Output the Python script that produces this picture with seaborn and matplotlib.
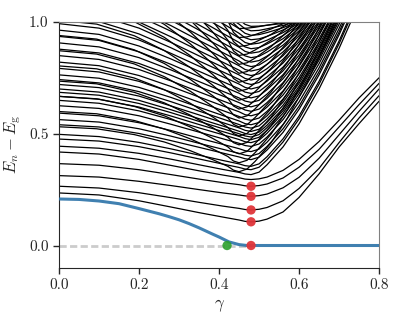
import numpy as np
import pandas as pd
import matplotlib
matplotlib.use("Agg")
import matplotlib.pyplot as plt
import seaborn as sns

gamma_a = [0, 0.1, 0.2, 0.28, 0.35, 0.41, 0.45, 0.465, 0.48, 0.50,
           0.52, 0.56, 0.6, 0.65, 0.7, 0.75, 0.8]
gamma_b = [0, 0.094, 0.188, 0.263, 0.328, 0.384, 0.422, 0.436, 0.45, 0.47,
           0.49, 0.53, 0.57, 0.62, 0.67, 0.72, 0.77]

# excited levels E_n - E_g (rows stop once a level leaves the top of the plot)
# shallow family, minimum at the critical point
levels_a = [
    [0.235, 0.226, 0.200, 0.172, 0.147, 0.127, 0.114, 0.108, 0.106, 0.109, 0.118, 0.150, 0.215, 0.320, 0.440, 0.545, 0.645],
    [0.265, 0.257, 0.236, 0.214, 0.193, 0.176, 0.166, 0.161, 0.159, 0.162, 0.170, 0.200, 0.255, 0.345, 0.460, 0.570, 0.670],
    [0.3125, 0.306, 0.287, 0.268, 0.250, 0.235, 0.226, 0.222, 0.220, 0.223, 0.230, 0.258, 0.305, 0.390, 0.495, 0.600, 0.700],
    [0.366, 0.359, 0.339, 0.317, 0.297, 0.281, 0.272, 0.267, 0.265, 0.268, 0.275, 0.302, 0.350, 0.430, 0.530, 0.630, 0.725],
    [0.418, 0.409, 0.385, 0.358, 0.334, 0.315, 0.303, 0.297, 0.295, 0.298, 0.306, 0.336, 0.385, 0.465, 0.560, 0.660, 0.750],
    [0.444, 0.435, 0.412, 0.386, 0.361, 0.340, 0.327, 0.320, 0.317, 0.328, 0.361, 0.441, 0.544, 0.700, 0.881, 1.083],
    [0.476, 0.467, 0.442, 0.414, 0.387, 0.364, 0.349, 0.342, 0.339, 0.350, 0.383, 0.463, 0.566, 0.721, 0.902, 1.104],
    [0.497, 0.487, 0.461, 0.432, 0.404, 0.380, 0.365, 0.357, 0.354, 0.365, 0.397, 0.477, 0.579, 0.734, 0.914, 1.116],
    [0.540, 0.530, 0.501, 0.469, 0.439, 0.413, 0.396, 0.388, 0.384, 0.395, 0.427, 0.506, 0.609, 0.763, 0.942, 1.143],
    [0.563, 0.552, 0.522, 0.489, 0.457, 0.430, 0.412, 0.404, 0.400, 0.411, 0.443, 0.522, 0.623, 0.777, 0.954, 1.154],
    [0.592, 0.580, 0.549, 0.514, 0.480, 0.452, 0.433, 0.424, 0.420, 0.431, 0.462, 0.541, 0.642, 0.794, 0.970, 1.167],
    [0.625, 0.613, 0.580, 0.542, 0.507, 0.477, 0.457, 0.447, 0.443, 0.454, 0.485, 0.563, 0.663, 0.813, 0.989, 1.185],
    [0.649, 0.636, 0.602, 0.563, 0.526, 0.495, 0.474, 0.464, 0.460, 0.471, 0.502, 0.579, 0.679, 0.829, 1.004],
    [0.667, 0.654, 0.619, 0.579, 0.541, 0.509, 0.488, 0.478, 0.473, 0.484, 0.515, 0.592, 0.691, 0.841, 1.015],
    [0.685, 0.672, 0.635, 0.594, 0.555, 0.522, 0.500, 0.490, 0.485, 0.496, 0.527, 0.603, 0.701, 0.850, 1.022],
    [0.700, 0.686, 0.649, 0.607, 0.567, 0.534, 0.511, 0.501, 0.496, 0.507, 0.538, 0.613, 0.712, 0.861, 1.033],
    [0.720, 0.706, 0.668, 0.624, 0.584, 0.549, 0.526, 0.515, 0.510, 0.520, 0.551, 0.627, 0.725, 0.872, 1.043],
    [0.742, 0.727, 0.688, 0.643, 0.601, 0.565, 0.541, 0.530, 0.525, 0.535, 0.566, 0.641, 0.738, 0.884, 1.053],
    [0.763, 0.748, 0.707, 0.662, 0.618, 0.581, 0.557, 0.545, 0.540, 0.550, 0.580, 0.655, 0.751, 0.896, 1.063],
    [0.792, 0.776, 0.734, 0.686, 0.641, 0.603, 0.577, 0.565, 0.560, 0.570, 0.600, 0.673, 0.768, 0.910, 1.075],
    [0.820, 0.804, 0.760, 0.711, 0.664, 0.624, 0.598, 0.585, 0.580, 0.590, 0.619, 0.691, 0.785, 0.924, 1.087],
    [0.849, 0.832, 0.787, 0.736, 0.687, 0.646, 0.619, 0.606, 0.600, 0.610, 0.639, 0.710, 0.802, 0.941, 1.102],
    [0.878, 0.861, 0.814, 0.761, 0.710, 0.668, 0.639, 0.626, 0.620, 0.630, 0.658, 0.728, 0.819, 0.955, 1.113],
    [0.906, 0.888, 0.840, 0.785, 0.733, 0.689, 0.660, 0.646, 0.640, 0.649, 0.677, 0.746, 0.834, 0.968, 1.122],
    [0.935, 0.917, 0.866, 0.810, 0.756, 0.711, 0.681, 0.666, 0.660, 0.669, 0.697, 0.764, 0.851, 0.983, 1.135],
    [0.963, 0.944, 0.892, 0.834, 0.779, 0.732, 0.701, 0.686, 0.680, 0.689, 0.716, 0.781, 0.867, 0.994, 1.143],
    [0.992, 0.972, 0.919, 0.859, 0.802, 0.754, 0.722, 0.707, 0.700, 0.709, 0.735, 0.798, 0.881, 1.005],
    [1.021, 1.001, 0.946, 0.884, 0.825, 0.776, 0.743, 0.727, 0.720, 0.729, 0.754, 0.816, 0.897, 1.018],
    [1.049, 1.028, 0.972, 0.908, 0.848, 0.797, 0.763, 0.747, 0.740, 0.748, 0.773, 0.833, 0.911, 1.027],
    [1.078, 1.057, 0.999, 0.933, 0.871, 0.819, 0.784, 0.767, 0.760, 0.768, 0.791, 0.849, 0.923, 1.036],
    [1.106, 1.084, 1.025, 0.958, 0.894, 0.840, 0.804, 0.787, 0.780, 0.788, 0.810, 0.866, 0.938, 1.045],
    [1.135, 1.113, 1.051, 0.983, 0.917, 0.862, 0.825, 0.808, 0.800, 0.807, 0.829, 0.881, 0.949, 1.051],
    [1.164, 1.141, 1.078, 1.007, 0.940, 0.884, 0.846, 0.828, 0.820, 0.827, 0.847, 0.896, 0.960, 1.056],
    [1.192, 1.168, 1.104, 1.032, 0.963, 0.905, 0.866, 0.848, 0.840, 0.846, 0.865, 0.911, 0.971, 1.061],
    [1.221, 1.197, 1.131, 1.057, 0.986, 0.927, 0.887, 0.868, 0.860, 0.866, 0.883, 0.925, 0.980, 1.062],
    [1.249, 1.224, 1.157, 1.081, 1.009, 0.948, 0.908, 0.888, 0.880, 0.885, 0.901, 0.939, 0.988, 1.062],
    [1.278, 1.253, 1.184, 1.106, 1.032, 0.970, 0.928, 0.908, 0.900, 0.905, 0.918, 0.952, 0.995, 1.061],
    [1.307, 1.281, 1.210, 1.131, 1.055, 0.992, 0.949, 0.929, 0.920, 0.924, 0.935, 0.964, 1.000, 1.055],
    [1.335, 1.309, 1.236, 1.155, 1.078, 1.013, 0.970, 0.949, 0.940, 0.943, 0.952, 0.974, 1.003],
    [1.364, 1.337, 1.263, 1.180, 1.101, 1.035, 0.990, 0.969, 0.960, 0.962, 0.969, 0.984, 1.005],
    [1.392, 1.364, 1.289, 1.205, 1.124, 1.056, 1.011, 0.989, 0.980, 0.981, 0.985, 0.993, 1.004],
]

# steeper family, minimum a little before the critical point, crossing the first one
levels_b = [
    [0.531, 0.522, 0.496, 0.463, 0.424, 0.384, 0.354, 0.337, 0.330, 0.342, 0.376, 0.459, 0.567, 0.729, 0.918, 1.129],
    [0.599, 0.589, 0.559, 0.521, 0.477, 0.432, 0.398, 0.378, 0.370, 0.381, 0.415, 0.498, 0.604, 0.766, 0.951, 1.161],
    [0.667, 0.656, 0.622, 0.580, 0.530, 0.479, 0.441, 0.419, 0.410, 0.421, 0.455, 0.536, 0.641, 0.800, 0.984, 1.191],
    [0.735, 0.723, 0.685, 0.638, 0.583, 0.527, 0.484, 0.460, 0.450, 0.461, 0.494, 0.574, 0.678, 0.834, 1.015],
    [0.803, 0.790, 0.749, 0.697, 0.636, 0.575, 0.528, 0.501, 0.490, 0.501, 0.533, 0.612, 0.713, 0.867, 1.045],
    [0.871, 0.856, 0.812, 0.755, 0.690, 0.622, 0.571, 0.542, 0.530, 0.540, 0.572, 0.649, 0.749, 0.898, 1.072],
    [0.939, 0.923, 0.875, 0.814, 0.743, 0.670, 0.615, 0.584, 0.570, 0.580, 0.611, 0.686, 0.782, 0.928, 1.098],
    [1.007, 0.990, 0.938, 0.872, 0.796, 0.717, 0.658, 0.624, 0.610, 0.620, 0.649, 0.722, 0.815, 0.956, 1.120],
    [1.075, 1.057, 1.001, 0.931, 0.849, 0.765, 0.701, 0.665, 0.650, 0.660, 0.688, 0.757, 0.847, 0.982, 1.139],
    [1.143, 1.124, 1.064, 0.989, 0.902, 0.812, 0.745, 0.707, 0.690, 0.699, 0.726, 0.792, 0.877, 1.006],
    [1.211, 1.190, 1.127, 1.047, 0.955, 0.860, 0.788, 0.747, 0.730, 0.739, 0.764, 0.826, 0.906, 1.026],
    [1.279, 1.257, 1.190, 1.106, 1.008, 0.907, 0.832, 0.789, 0.770, 0.778, 0.801, 0.858, 0.931, 1.042],
    [1.347, 1.324, 1.254, 1.164, 1.061, 0.955, 0.875, 0.830, 0.810, 0.817, 0.838, 0.889, 0.955, 1.054],
    [1.415, 1.391, 1.317, 1.223, 1.114, 1.003, 0.918, 0.870, 0.850, 0.856, 0.874, 0.918, 0.974, 1.060],
    [1.483, 1.457, 1.380, 1.281, 1.168, 1.050, 0.962, 0.912, 0.890, 0.895, 0.909, 0.944, 0.990, 1.058],
    [1.551, 1.524, 1.443, 1.340, 1.221, 1.098, 1.005, 0.953, 0.930, 0.933, 0.943, 0.968, 1.000, 1.048],
    [1.619, 1.591, 1.506, 1.398, 1.274, 1.145, 1.049, 0.994, 0.970, 0.972, 0.976, 0.988, 1.003],
]

# gap of the lowest state (blue)
gap_gamma = [0, 0.05, 0.1, 0.15, 0.2, 0.25, 0.275, 0.3, 0.325, 0.35, 0.385, 0.4,
             0.425, 0.45, 0.47, 0.5, 0.6, 0.7, 0.8]
gap = [0.208, 0.206, 0.199, 0.187, 0.165, 0.142, 0.129, 0.115, 0.098, 0.079, 0.050, 0.038,
       0.016, 0.004, 0.0, 0.0, 0.0, 0.0, 0.0]

# markers
crit_gamma = 0.48
red_E = [0.0, 0.106, 0.159, 0.220, 0.265]
green_gamma = [0.42]
green_E = [0.0]

rows = []
n = 0
for grid, fam in [(gamma_a, levels_a), (gamma_b, levels_b)]:
    for lev in fam:
        for g, e in zip(grid, lev):
            rows.append((n, g, e))
        n += 1
df = pd.DataFrame(rows, columns=["level", "gamma", "E"])

sns.set_style("ticks")
plt.rcParams["font.family"] = ["cmr10", "DejaVu Serif"]
plt.rcParams["mathtext.fontset"] = "cm"
plt.rcParams["axes.formatter.use_mathtext"] = True

fig = plt.figure(figsize=(3.99, 3.17), dpi=100)
ax = fig.add_axes([0.148, 0.155, 0.802, 0.776])

ax.plot([0, crit_gamma], [0, 0], color="#cccccc", lw=2, dashes=(2.6, 1.2), zorder=1)
sns.lineplot(data=df, x="gamma", y="E", units="level", estimator=None, sort=False,
             color="black", lw=0.9, ax=ax, zorder=2)
sns.lineplot(x=gap_gamma, y=gap, color="#2b72a8", lw=2.2, alpha=0.9, ax=ax, zorder=3)
sns.scatterplot(x=[crit_gamma] * len(red_E), y=red_E, color="#e0353a", s=45,
                edgecolor="none", alpha=0.95, ax=ax, zorder=4)
sns.scatterplot(x=green_gamma, y=green_E, color="#2ca02c", s=45,
                edgecolor="none", alpha=0.9, ax=ax, zorder=4)

ax.set_xlim(0, 0.8)
ax.set_ylim(-0.1, 1.0)
ax.set_xticks([0, 0.2, 0.4, 0.6, 0.8])
ax.set_yticks([0, 0.5, 1.0])
ax.set_xticklabels(["0.0", "0.2", "0.4", "0.6", "0.8"])
ax.set_yticklabels(["0.0", "0.5", "1.0"])
ax.tick_params(labelsize=11, length=4, width=1)
ax.set_xlabel(r"$\gamma$", fontsize=12)
ax.set_ylabel(r"$E_n - E_\mathrm{g}$", fontsize=12)
for s in ["top", "right"]:
    ax.spines[s].set_color("0.5")

fig.savefig("out.png", dpi=100)
